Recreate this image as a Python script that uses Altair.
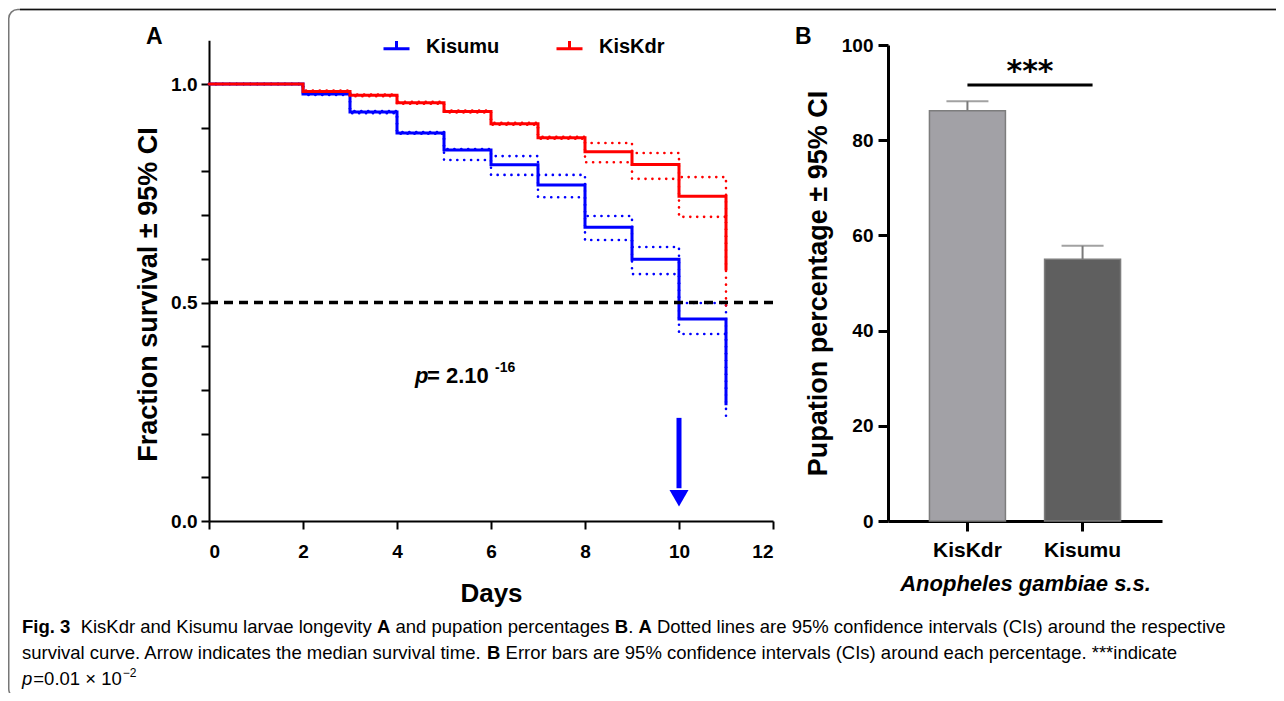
import altair as alt
import pandas as pd

# ---------------- Panel A : larval survival (Kaplan-Meier) ----------------
days = [0, 2, 3, 4, 5, 6, 7, 8, 9, 10, 11]
kisumu_surv = [1.0, 0.977, 0.936, 0.888, 0.849, 0.815, 0.769, 0.672, 0.599, 0.462, 0.265]
kisumu_upper = [1.0, 0.979, 0.938, 0.890, 0.851, 0.835, 0.792, 0.698, 0.627, 0.499, 0.300]
kisumu_lower = [1.0, 0.975, 0.933, 0.886, 0.826, 0.792, 0.741, 0.643, 0.565, 0.428, 0.236]
kiskdr_surv = [1.0, 0.983, 0.974, 0.957, 0.937, 0.909, 0.877, 0.845, 0.816, 0.743, 0.574]
kiskdr_upper = [1.0, 0.985, 0.976, 0.959, 0.939, 0.911, 0.879, 0.865, 0.842, 0.787, 0.620]
kiskdr_lower = [1.0, 0.981, 0.972, 0.955, 0.935, 0.907, 0.875, 0.821, 0.783, 0.696, 0.490]
strains_a = ["Kisumu", "KisKdr"]
median_level = 0.5
median_day = 10
arrow_top, arrow_bottom, arrow_head = 0.236, 0.075, 0.052

# ---------------- Panel B : pupation percentage ----------------
strains_b = ["KisKdr", "Kisumu"]
pupation_pct = [86.2, 55.0]
pupation_ci_upper = [88.2, 57.8]
sig_level = 91.6

# ---------------- tables ----------------
curves = {"Kisumu": (kisumu_surv, kisumu_upper, kisumu_lower),
          "KisKdr": (kiskdr_surv, kiskdr_upper, kiskdr_lower)}
km_rows, ci_rows = [], []
for s, (sv, up, lo) in curves.items():
    for d, v in zip(days, sv):
        km_rows.append({"strain": s, "day": d, "value": v})
    for bound, arr in (("upper", up), ("lower", lo)):
        for d, v in zip(days, arr):
            ci_rows.append({"strain": s, "series": s + bound, "day": d, "value": v})
km = pd.DataFrame(km_rows)
ci = pd.DataFrame(ci_rows)
pup = pd.DataFrame({"strain": strains_b, "pct": pupation_pct, "upper": pupation_ci_upper})

FONT = "Liberation Sans"
W, H = 1268, 685

# ---------------- scales & axes, panel A ----------------
xA = alt.Scale(domain=[0, 12], range=[201, 765], nice=False, zero=False)
yA = alt.Scale(domain=[0, 1.1], range=[513, 32.3], nice=False, zero=False)
axA = alt.Axis(orient="bottom", offset=513 - H, values=[0, 2, 4, 6, 8, 10, 12], format="d",
               grid=False, tickSize=8, tickWidth=2, domainWidth=2, labelFontSize=19,
               labelFontWeight="bold", labelPadding=13, labelFont=FONT, title="Days",
               titleFont=FONT, titleFontSize=26, titleFontWeight="bold", titlePadding=19,
               domainColor="black", tickColor="black", labelColor="black", titleColor="black")
ayA = alt.Axis(orient="left", offset=-201, values=[round(i * 0.1, 1) for i in range(11)],
               labelExpr="(datum.value == 0 || datum.value == 0.5 || datum.value == 1) ? format(datum.value, '.1f') : ''",
               grid=False, tickSize=8, tickWidth=2, domainWidth=2, labelFontSize=19,
               labelFontWeight="bold", labelPadding=4, labelFont=FONT,
               title="Fraction survival \u00b1 95% CI", titleFont=FONT, titleFontSize=27,
               titleFontWeight="bold", titlePadding=8, titleY=286,
               domainColor="black", tickColor="black", labelColor="black", titleColor="black")
strokeA = alt.Stroke("strain:N", scale=alt.Scale(domain=strains_a, range=["#0000ff", "#ff0000"]),
                     legend=alt.Legend(orient="none", legendX=374, legendY=24, direction="horizontal",
                                       title=None, symbolType="M-1,0.15H1M0,0.15V-0.45",
                                       symbolSize=676, symbolStrokeWidth=3, labelFont=FONT,
                                       labelFontSize=20, labelFontWeight="bold", labelColor="black",
                                       labelOffset=15, columnPadding=50, padding=0))

def xa(field="day"):
    return alt.X(f"{field}:Q", scale=xA, axis=axA)

def ya(field="value"):
    return alt.Y(f"{field}:Q", scale=yA, axis=ayA)

ci_layer = alt.Chart(ci).mark_line(interpolate="step-after", strokeWidth=2.6,
                                   strokeDash=[0.1, 6.8], strokeCap="round").encode(
    x=xa(), y=ya(), stroke=strokeA, detail="series:N")
km_layer = alt.Chart(km).mark_line(interpolate="step-after", strokeWidth=3).encode(
    x=xa(), y=ya(), stroke=strokeA, detail="strain:N")
half = pd.DataFrame({"day": [0], "day2": [12], "value": [median_level]})
half_layer = alt.Chart(half).mark_rule(color="black", strokeWidth=3.5, strokeDash=[9, 6]).encode(
    x=xa(), x2="day2:Q", y=ya())
arrow = pd.DataFrame({"day": [median_day], "value": [arrow_top], "value2": [arrow_bottom],
                      "head": [arrow_head]})
arrow_shaft = alt.Chart(arrow).mark_rule(color="#0000ff", strokeWidth=5).encode(
    x=xa(), y=ya(), y2="value2:Q")
arrow_tip = alt.Chart(arrow).mark_point(shape="triangle-down", filled=True, color="#0000ff",
                                        size=360, opacity=1).encode(x=xa(), y=ya("head"))
panelA = alt.layer(ci_layer, km_layer, half_layer, arrow_shaft, arrow_tip)

# ---------------- panel B ----------------
xB = alt.Scale(domain=strains_b, range=[880, 1154], paddingInner=0.34, paddingOuter=0.36)
yB = alt.Scale(domain=[0, 100], range=[513, 37], nice=False, zero=False)
axB = alt.Axis(orient="bottom", offset=513 - H, grid=False, tickSize=10, tickWidth=3, domainWidth=3,
               labelFontSize=21, labelFontWeight="bold", labelFont=FONT, labelPadding=8, labelAngle=0,
               title="Anopheles gambiae s.s.", titleFont=FONT, titleFontSize=22, titleFontWeight="bold",
               titleFontStyle="italic", titlePadding=13,
               domainColor="black", tickColor="black", labelColor="black", titleColor="black")
ayB = alt.Axis(orient="left", offset=-880, values=[0, 20, 40, 60, 80, 100], grid=False, tickSize=10,
               tickWidth=3, domainWidth=3, labelFontSize=19, labelFontWeight="bold", labelFont=FONT,
               labelPadding=5, title="Pupation percentage \u00b1 95% CI", titleFont=FONT,
               titleFontSize=27, titleFontWeight="bold", titlePadding=9,
               domainColor="black", tickColor="black", labelColor="black", titleColor="black")

def xb(field="strain"):
    return alt.X(f"{field}:N", scale=xB, axis=axB, bandPosition=0.5)

bars = alt.Chart(pup).mark_bar(stroke="#7d7d7d", strokeWidth=1.5).encode(
    x=alt.X("strain:N", scale=xB, axis=axB),
    y=alt.Y("pct:Q", scale=yB, axis=ayB),
    fill=alt.Fill("strain:N", scale=alt.Scale(domain=strains_b, range=["#a2a1a6", "#5f5f5f"]), legend=None))
err = alt.Chart(pup).mark_rule(color="#7a7a7a", strokeWidth=2).encode(
    x=xb(), y=alt.Y("pct:Q", scale=yB, axis=ayB), y2="upper:Q")
cap = alt.Chart(pup).mark_tick(color="#7a7a7a", thickness=2, size=42).encode(
    x=alt.X("strain:N", scale=xB, axis=axB), y=alt.Y("upper:Q", scale=yB, axis=ayB))
sig = pd.DataFrame({"s1": [strains_b[0]], "s2": [strains_b[1]], "level": [sig_level]})
sig_line = alt.Chart(sig).mark_rule(color="black", strokeWidth=3, x2Offset=10).encode(
    x=xb("s1"), x2=alt.X2("s2", bandPosition=0.5), y=alt.Y("level:Q", scale=yB, axis=ayB))
panelB = alt.layer(bars, err, cap, sig_line)

# ---------------- texts ----------------
def label(text, x, y, size, weight="normal", style="normal", font=FONT, align="left"):
    return alt.Chart(pd.DataFrame({"t": [text]})).mark_text(
        align=align, baseline="alphabetic", fontSize=size, fontWeight=weight, fontStyle=style,
        font=font, color="black").encode(x=alt.value(x), y=alt.value(y), text="t:N")

texts = [
    label("A", 138, 36, 23, "bold"),
    label("B", 787, 36, 23, "bold"),
    label("p", 407, 375, 22, "bold", "italic"),
    label("= 2.10", 419, 375, 22, "bold"),
    label("-16", 487, 364, 14, "bold"),
    label("***", 1022, 73, 30, "bold", font="DejaVu Sans", align="center"),
]

# caption: Liberation Sans has Arial metrics, used to lay the mixed-weight runs side by side
REG = {" ": 278, "(": 333, ")": 333, "*": 389, ",": 278, ".": 278, "%": 889, "=": 584,
       "\u00d7": 584, "\u2212": 584, "A": 667, "B": 667, "C": 722, "D": 722, "E": 667, "F": 611,
       "I": 278, "K": 667, "a": 556, "b": 556, "c": 500, "d": 556, "e": 556, "f": 278, "g": 556,
       "h": 556, "i": 222, "j": 222, "k": 500, "l": 222, "m": 833, "n": 556, "o": 556, "p": 556,
       "q": 556, "r": 333, "s": 500, "t": 278, "u": 556, "v": 500, "w": 722, "x": 500, "y": 500,
       "z": 500}
for dgt in "0123456789":
    REG[dgt] = 556
BOLD = dict(REG, **{"A": 722, "B": 722, "F": 611, "i": 278, "g": 611})

def em(text, weight):
    table = BOLD if weight == "bold" else REG
    return sum(table.get(ch, 556) for ch in text) / 1000.0

caption_lines = [
    [("Fig. 3  ", "bold"), ("KisKdr and Kisumu larvae longevity ", "normal"), ("A", "bold"),
     (" and pupation percentages ", "normal"), ("B", "bold"), (". ", "normal"), ("A", "bold"),
     (" Dotted lines are 95% confidence intervals (CIs) around the respective", "normal")],
    [("survival curve. Arrow indicates the median survival time. ", "normal"), ("B", "bold"),
     (" Error bars are 95% confidence intervals (CIs) around each percentage. ***indicate", "normal")],
]
LINE1_WIDTH = 1204.0
CAP = LINE1_WIDTH / sum(em(t, w) for t, w in caption_lines[0])
cap_x0 = 14
for y, segs in zip([625, 651], caption_lines):
    cursor = cap_x0
    for t, w in segs:
        lead = len(t) - len(t.lstrip(" "))
        texts.append(label(t.strip(" "), cursor + em(" " * lead, w) * CAP, y, CAP, w))
        cursor += em(t, w) * CAP
cursor = cap_x0
texts.append(label("p", cursor, 677, CAP, "normal", "italic"))
cursor += em("p", "normal") * CAP
texts.append(label("=0.01 \u00d7 10", cursor + 1, 677, CAP))
cursor += em("=0.01 \u00d7 10", "normal") * CAP + 2
texts.append(label("\u22122", cursor, 669, CAP * 0.65))

frame = alt.Chart(pd.DataFrame({"k": [0]})).mark_rect(
    fill=None, stroke="#777777", strokeWidth=1.5, cornerRadius=9).encode(
    x=alt.value(0.75), x2=alt.value(1300), y=alt.value(1.5), y2=alt.value(690))
top_rule = alt.Chart(pd.DataFrame({"k": [0]})).mark_rule(color="#111111", strokeWidth=1.5).encode(
    x=alt.value(12), x2=alt.value(1300), y=alt.value(1.5))

chart = alt.layer(frame, top_rule, panelA, panelB, *texts).resolve_scale(
    x="independent", y="independent").properties(
    width=W, height=H, autosize=alt.AutoSizeParams(type="none"), padding=0,
    background="white").configure_view(stroke=None)

chart.save("out.html", embed_options={"renderer": "svg", "actions": False})
